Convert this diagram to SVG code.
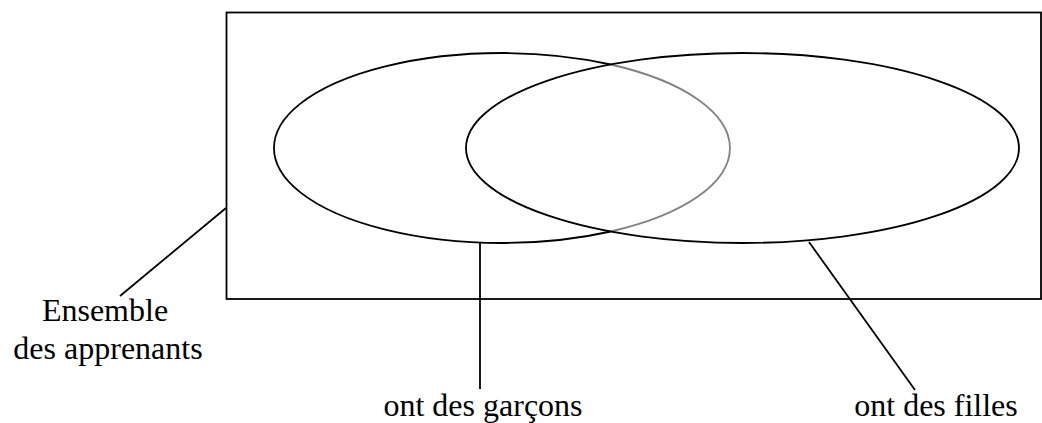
<svg xmlns="http://www.w3.org/2000/svg" width="1042" height="423" viewBox="0 0 1042 423">
<style>
.ln{fill:none;stroke:#000;stroke-width:1.8}
.gr{fill:none;stroke:#808080;stroke-width:1.8}
.t{font-family:"Liberation Serif","DejaVu Serif",serif;font-size:32px;fill:#000;text-anchor:middle}
</style>
<rect width="1042" height="423" fill="#fff"/>
<g id="ensemble">
<rect class="ln" x="226.5" y="12.5" width="814.5" height="286.5"/>
</g>
<g id="garcons">
<path class="ln" d="M 610.7 64.5 A 228 95 0 1 0 610.7 231.5"/>
<path class="gr" d="M 610.7 231.5 A 228 95 0 0 0 610.7 64.5"/>
</g>
<g id="filles">
<ellipse class="ln" cx="742.5" cy="148" rx="276.5" ry="95"/>
</g>
<g id="connectors">
<line class="ln" x1="226" y1="208" x2="120" y2="296"/>
<line class="ln" x1="480" y1="243" x2="480" y2="389"/>
<line class="ln" x1="809" y1="242" x2="915" y2="390"/>
</g>
<g id="labels">
<text class="t" x="105" y="321">Ensemble</text>
<text class="t" x="108" y="359">des apprenants</text>
<text class="t" x="483" y="416">ont des garçons</text>
<text class="t" x="936" y="416">ont des filles</text>
</g>
</svg>
